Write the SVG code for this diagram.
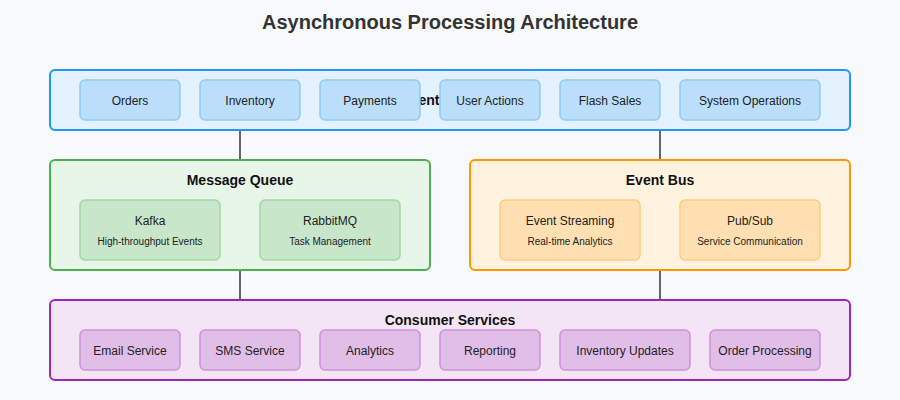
<svg xmlns="http://www.w3.org/2000/svg" width="900" height="400" viewBox="0 0 900 400">
<style>
text{font-family:"Liberation Sans",Arial,sans-serif;text-anchor:middle;fill:#222}
.title{font-size:20px;font-weight:bold;fill:#333}
.h{font-size:14px;font-weight:bold;fill:#111}
.l{font-size:12px}
.s{font-size:10px}
.conn line{stroke:#666;stroke-width:2}
.blue{fill:#e3f2fd;stroke:#2196f3;stroke-width:2}
.blue2{fill:#bbdefb;stroke:#90caf9;stroke-width:1.5}
.green{fill:#e8f5e9;stroke:#4caf50;stroke-width:2}
.green2{fill:#c8e6c9;stroke:#a5d6a7;stroke-width:1.5}
.orange{fill:#fff3e0;stroke:#ff9800;stroke-width:2}
.orange2{fill:#ffe0b2;stroke:#ffcc80;stroke-width:1.5}
.purple{fill:#f3e5f5;stroke:#9c27b0;stroke-width:2}
.purple2{fill:#e1bee7;stroke:#ce93d8;stroke-width:1.5}
</style>
<rect width="900" height="400" fill="#f8f9fa"/>
<text class="title" x="450" y="29">Asynchronous Processing Architecture</text>
<g id="connectors" class="conn">
<line x1="240" y1="130" x2="240" y2="160"/>
<line x1="660" y1="130" x2="660" y2="160"/>
<line x1="240" y1="270" x2="240" y2="300"/>
<line x1="660" y1="270" x2="660" y2="300"/>
</g>
<g id="event-sources">
<rect class="blue" x="50" y="70" width="800" height="60" rx="5"/>
<text class="h" x="450" y="105">Event Sources</text>
<g id="orders"><rect class="blue2" x="80" y="80" width="100" height="40" rx="5"/><text class="l" x="130" y="105">Orders</text></g>
<g id="inventory"><rect class="blue2" x="200" y="80" width="100" height="40" rx="5"/><text class="l" x="250" y="105">Inventory</text></g>
<g id="payments"><rect class="blue2" x="320" y="80" width="100" height="40" rx="5"/><text class="l" x="370" y="105">Payments</text></g>
<g id="user-actions"><rect class="blue2" x="440" y="80" width="100" height="40" rx="5"/><text class="l" x="490" y="105">User Actions</text></g>
<g id="flash-sales"><rect class="blue2" x="560" y="80" width="100" height="40" rx="5"/><text class="l" x="610" y="105">Flash Sales</text></g>
<g id="system-operations"><rect class="blue2" x="680" y="80" width="140" height="40" rx="5"/><text class="l" x="750" y="105">System Operations</text></g>
</g>
<g id="message-queue">
<rect class="green" x="50" y="160" width="380" height="110" rx="5"/>
<text class="h" x="240" y="185">Message Queue</text>
<g id="kafka"><rect class="green2" x="80" y="200" width="140" height="60" rx="5"/><text class="l" x="150" y="225">Kafka</text><text class="s" x="150" y="245">High-throughput Events</text></g>
<g id="rabbitmq"><rect class="green2" x="260" y="200" width="140" height="60" rx="5"/><text class="l" x="330" y="225">RabbitMQ</text><text class="s" x="330" y="245">Task Management</text></g>
</g>
<g id="event-bus">
<rect class="orange" x="470" y="160" width="380" height="110" rx="5"/>
<text class="h" x="660" y="185">Event Bus</text>
<g id="event-streaming"><rect class="orange2" x="500" y="200" width="140" height="60" rx="5"/><text class="l" x="570" y="225">Event Streaming</text><text class="s" x="570" y="245">Real-time Analytics</text></g>
<g id="pubsub"><rect class="orange2" x="680" y="200" width="140" height="60" rx="5"/><text class="l" x="750" y="225">Pub/Sub</text><text class="s" x="750" y="245">Service Communication</text></g>
</g>
<g id="consumer-services">
<rect class="purple" x="50" y="300" width="800" height="80" rx="5"/>
<text class="h" x="450" y="325">Consumer Services</text>
<g id="email"><rect class="purple2" x="80" y="330" width="100" height="40" rx="5"/><text class="l" x="130" y="355">Email Service</text></g>
<g id="sms"><rect class="purple2" x="200" y="330" width="100" height="40" rx="5"/><text class="l" x="250" y="355">SMS Service</text></g>
<g id="analytics"><rect class="purple2" x="320" y="330" width="100" height="40" rx="5"/><text class="l" x="370" y="355">Analytics</text></g>
<g id="reporting"><rect class="purple2" x="440" y="330" width="100" height="40" rx="5"/><text class="l" x="490" y="355">Reporting</text></g>
<g id="inventory-updates"><rect class="purple2" x="560" y="330" width="130" height="40" rx="5"/><text class="l" x="625" y="355">Inventory Updates</text></g>
<g id="order-processing"><rect class="purple2" x="710" y="330" width="110" height="40" rx="5"/><text class="l" x="765" y="355">Order Processing</text></g>
</g>
</svg>
